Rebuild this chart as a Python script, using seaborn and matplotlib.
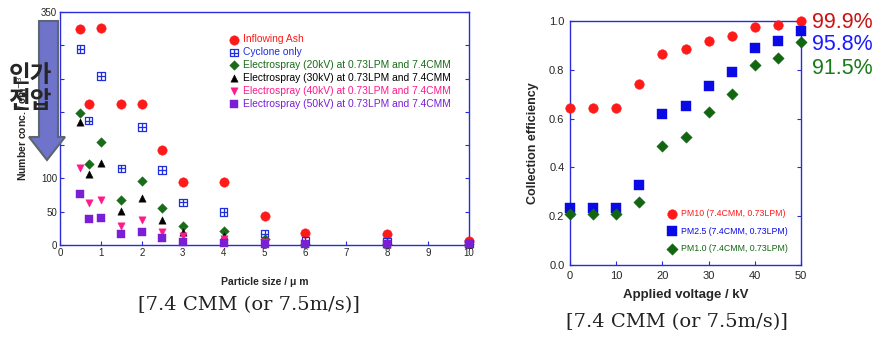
import numpy as np
import pandas as pd
import matplotlib
matplotlib.use("Agg")
import matplotlib.pyplot as plt
import seaborn as sns
from matplotlib.path import Path
from matplotlib.patches import Polygon

sns.set_theme(style="white")
plt.rcParams['font.family'] = ['Liberation Sans', 'DejaVu Sans']

# ---------------- data: left chart ----------------
sizes = [0.5, 0.7, 1, 1.5, 2, 2.5, 3, 4, 5, 6, 8, 10]
inflowing_ash = [324, 212, 326, 212, 212, 142, 94, 94, 43, 18, 16, 6]
cyclone_only = [294, 187, 254, 115, 177, 113, 64, 50, 17, 6, 5, 2]
es_20kv = [198, 121, 154, 67, 96, 55, 29, 21, 9, 2, 1, 1]
es_30kv = [185, 107, 123, 51, 70, 38, 20, 13, 6, 3, 2, 1]
es_40kv = [116, 63, 68, 28, 37, 20, 13, 9, 4, 2, 1, 1]
es_50kv = [76, 39, 40, 16, 20, 10, 4, 3, 1.5, 1, 1, 1]
left_labels = ["Inflowing Ash", "Cyclone only",
               "Electrospray (20kV) at 0.73LPM and 7.4CMM",
               "Electrospray (30kV) at 0.73LPM and 7.4CMM",
               "Electrospray (40kV) at 0.73LPM and 7.4CMM",
               "Electrospray (50kV) at 0.73LPM and 7.4CMM"]
left_yticks = [0, 50, 100, 150, 200, 250, 300, 350]
left_yticklabels = ["0", "50", "100", "", "", "", "", "350"]

# ---------------- data: right chart ----------------
voltage = [0, 5, 10, 15, 20, 25, 30, 35, 40, 45, 50]
pm10 = [0.645, 0.645, 0.645, 0.741, 0.864, 0.885, 0.917, 0.937, 0.975, 0.982, 0.999]
pm25 = [0.235, 0.235, 0.235, 0.326, 0.619, 0.651, 0.734, 0.791, 0.888, 0.920, 0.958]
pm1 = [0.210, 0.210, 0.210, 0.260, 0.487, 0.524, 0.626, 0.699, 0.821, 0.850, 0.915]
right_labels = ["PM10 (7.4CMM, 0.73LPM)", "PM2.5 (7.4CMM, 0.73LPM)", "PM1.0 (7.4CMM, 0.73LPM)"]
final_labels = ["99.9%", "95.8%", "91.5%"]

caption = "[7.4 CMM (or 7.5m/s)]"

W, H = 874, 340
fig = plt.figure(figsize=(W / 100, H / 100), dpi=100)

spine_col = "#2b2bd9"

# grid-square marker (⊞)
grid_sq = Path(
    [(-1, -1), (1, -1), (1, 1), (-1, 1), (-1, -1),
     (0, -1), (0, 1), (-1, 0), (1, 0)],
    [Path.MOVETO, Path.LINETO, Path.LINETO, Path.LINETO, Path.CLOSEPOLY,
     Path.MOVETO, Path.LINETO, Path.MOVETO, Path.LINETO])

# ---------------- left axes ----------------
axL = fig.add_axes([60 / W, 1 - 245 / H, 409 / W, 233 / H])
left_series = [inflowing_ash, cyclone_only, es_20kv, es_30kv, es_40kv, es_50kv]
left_colors = ["#ff1a1a", "#1f2fe0", "#1a6b1a", "#000000", "#ff1a8c", "#7a1fd6"]
left_markers = ["o", grid_sq, "D", "^", "v", "s"]
left_sizes = [46, 30, 24, 28, 28, 28]
dfL = pd.DataFrame({"size": sizes})
for vals, col, mk, sz, lab in zip(left_series, left_colors, left_markers, left_sizes, left_labels):
    dfL["val"] = vals
    if mk is grid_sq:
        sns.scatterplot(data=dfL, x="size", y="val", ax=axL, marker=mk, s=sz,
                        color=col, facecolor="none", edgecolor=col, linewidth=0.9,
                        label=lab, zorder=3, clip_on=False)
    else:
        sns.scatterplot(data=dfL, x="size", y="val", ax=axL, marker=mk, s=sz,
                        color=col, edgecolor=col, linewidth=0.3, label=lab,
                        zorder=3, clip_on=False)

axL.set_xlim(0, 10)
axL.set_ylim(0, 350)
axL.set_xticks(range(0, 11))
axL.set_yticks(left_yticks)
axL.set_yticklabels(left_yticklabels)
axL.tick_params(axis="both", direction="in", length=3, width=0.8, color=spine_col,
                labelsize=7, pad=2, right=True, left=True, bottom=True)
for sp in axL.spines.values():
    sp.set_color(spine_col)
    sp.set_linewidth(1.0)
axL.set_xlabel("Particle size / μ m", fontsize=7.5, fontweight="bold", labelpad=14)
axL.set_ylabel("Number conc. / cm$^{-3}$", fontsize=7.5, fontweight="bold", labelpad=9)
axL.legend(loc="upper left", bbox_to_anchor=(0.395, 0.935), frameon=False,
           fontsize=7.4, handletextpad=0.4, labelspacing=0.28, handlelength=1.0,
           borderpad=0.2, labelcolor=left_colors)

# arrow overlay and Korean text
arrow_px = [(39, 21), (58, 21), (58, 137), (65, 137), (47, 160), (29, 137), (39, 137)]
arrow = Polygon([(x / W, 1 - y / H) for x, y in arrow_px], closed=True,
                transform=fig.transFigure, facecolor="#6f73c9", edgecolor="#5b6670",
                linewidth=1.5, zorder=5)
fig.patches.append(arrow)
fig.text(30 / W, 1 - 88 / H, "인가\n전압", fontsize=17, fontweight="heavy",
         family=["Noto Sans CJK KR", "DejaVu Sans"], ha="center", va="center",
         linespacing=1.1, zorder=6)

fig.text(249 / W, 1 - 305 / H, caption, fontsize=14,
         family=["DejaVu Serif", "Liberation Serif"], ha="center", va="center",
         color="#222222")

# ---------------- right axes ----------------
axR = fig.add_axes([570 / W, 1 - 265 / H, 231 / W, 244 / H])
right_series = [pm10, pm25, pm1]
right_colors = ["#ff1a1a", "#0a0ae6", "#126612"]
right_markers = ["o", "s", "D"]
right_sizes = [48, 44, 34]
dfR = pd.DataFrame({"voltage": voltage})
for vals, col, mk, sz, lab in zip(right_series, right_colors, right_markers, right_sizes, right_labels):
    dfR["eff"] = vals
    sns.scatterplot(data=dfR, x="voltage", y="eff", ax=axR, marker=mk, s=sz,
                    color=col, edgecolor=col, linewidth=0.3, label=lab,
                    zorder=3, clip_on=False)
axR.set_xlim(0, 50)
axR.set_ylim(0, 1.0)
axR.set_xticks([0, 10, 20, 30, 40, 50])
axR.set_yticks([0.0, 0.2, 0.4, 0.6, 0.8, 1.0])
axR.set_yticklabels(["0.0", "0.2", "0.4", "0.6", "0.8", "1.0"])
axR.tick_params(axis="both", direction="in", length=3, width=0.8, color=spine_col,
                labelsize=8, pad=4, right=True, left=True, bottom=True)
for sp in axR.spines.values():
    sp.set_color(spine_col)
    sp.set_linewidth(1.0)
axR.set_xlabel("Applied voltage / kV", fontsize=9.5, fontweight="bold", labelpad=6)
axR.set_ylabel("Collection efficiency", fontsize=9, fontweight="bold", labelpad=7)
axR.legend(loc="lower left", bbox_to_anchor=(0.39, 0.015), frameon=False,
           fontsize=6.3, handletextpad=0.5, labelspacing=1.0, handlelength=1.0,
           labelcolor=right_colors)

final_colors = ["#cc1111", "#1a1aff", "#1a7a1a"]
for txt, col, yv in zip(final_labels, final_colors, [22, 45, 68]):
    fig.text(812 / W, 1 - yv / H, txt, fontsize=15.5, color=col, ha="left", va="center")

fig.text(677 / W, 1 - 322 / H, caption, fontsize=14,
         family=["DejaVu Serif", "Liberation Serif"], ha="center", va="center",
         color="#222222")

fig.savefig("out.png", dpi=100)
